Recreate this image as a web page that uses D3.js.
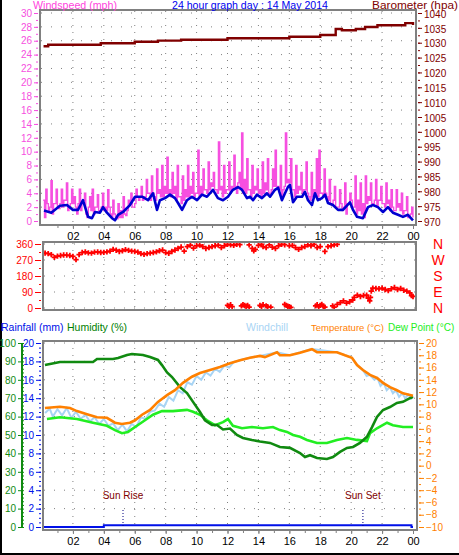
<!DOCTYPE html>
<html><head><meta charset="utf-8">
<script src="https://cdn.jsdelivr.net/npm/d3@7"></script>
<style>body{margin:0;background:#fff}svg{display:block}text{font-family:"Liberation Sans",Arial,sans-serif}</style>
</head><body><svg id="c" width="459" height="555"></svg>
<script>
// ---------- DATA ----------
const hourLabels = ["02","04","06","08","10","12","14","16","18","20","22","00"];
const hourTickValues = [2,4,6,8,10,12,14,16,18,20,22,24];
const windTicks = [0,2,4,6,8,10,12,14,16,18,20,22,24,26,28,30];
const baroTicks = [970,975,980,985,990,995,1000,1005,1010,1015,1020,1025,1030,1035,1040];
const dirTicks = [0,90,180,270,360];
const dirLetters = ["N","E","S","W","N"];
const humTicks = [0,10,20,30,40,50,60,70,80,90,100];
const rainTicks = [0,2,4,6,8,10,12,14,16,18,20];
const tempTicks = [-10,-8,-6,-4,-2,0,2,4,6,8,10,12,14,16,18,20];

// wind gust (mph), 10-minute samples from 00:00: high and low readings within each interval
const gustHigh = [
 3.0,4.6,1.5,5.8,2.5,4.6, 1.8,4.6,3.0,5.5,2.0,4.6, 3.5,1.0,4.6,2.5,4.0,0.5,
 3.5,4.6,2.0,3.8,1.5,4.0, 2.0,4.5,1.0,3.0,0.5,2.5, 1.5,3.5,0.8,3.0,4.0,2.0,
 4.6,3.0,5.0,3.5,6.0,4.0, 6.5,3.5,7.5,4.5,8.0,5.0, 9.2,4.5,7.0,5.0,8.0,3.5,
 6.5,4.5,8.0,5.0,7.0,4.0, 10.2,5.0,7.5,4.5,8.5,5.5, 7.0,4.5,11.4,5.0,8.0,4.5,
 8.5,5.0,9.5,4.0,7.0,12.7, 6.0,9.0,4.5,8.0,5.0,7.5, 4.5,8.5,5.5,9.0,4.0,7.5,
 10.2,5.0,8.0,4.5,12.7,6.0, 9.0,4.5,8.0,5.0,7.0,4.5, 8.5,3.5,7.0,4.5,9.0,10.2,
 4.0,7.5,3.5,6.0,2.5,5.0, 2.0,4.5,1.5,5.5,2.5,4.0, 2.0,6.5,3.0,5.5,2.5,6.5,
 3.5,5.5,2.5,6.0,3.0,5.0, 2.5,5.5,3.0,4.5,1.5,4.5, 2.5,4.0,1.5,3.5,0.8,2.0
];
const gustLow = [
 0.5,2.5,2.0,1.0,2.5,2.0, 2.5,2.0,3.0,1.5,2.5,2.5, 2.0,2.5,1.5,3.0,1.0,2.0,
 1.5,1.0,2.0,1.5,2.0,1.5, 1.5,2.0,0.5,1.0,0.3,0.5, 0.5,1.0,1.5,2.5,2.0,2.5,
 3.5,3.5,3.0,3.5,4.0,3.0, 4.0,3.0,4.0,3.5,3.5,4.0, 4.0,3.5,4.0,3.0,3.5,2.5,
 3.0,3.5,3.5,4.0,3.5,4.0, 3.5,4.0,4.5,4.0,4.5,5.0, 4.5,4.0,4.5,3.5,4.0,4.5,
 4.0,4.5,5.0,5.5,4.5,4.0, 4.0,4.5,3.5,4.0,4.5,4.0, 3.5,4.0,4.5,4.0,4.5,5.0,
 5.0,4.5,3.5,5.0,5.5,5.5, 4.5,3.5,4.0,4.5,4.0,4.5, 4.0,3.0,3.5,4.0,3.5,4.0,
 3.5,4.0,3.0,2.5,3.0,2.0, 2.0,2.5,2.0,1.0,2.5,3.0, 2.0,1.0,1.5,1.0,0.5,2.5,
 3.0,2.5,3.0,2.0,3.0,2.5, 2.0,2.5,1.5,2.0,1.5,2.0, 1.5,1.0,1.5,0.5,1.0,0.5
];
// average wind speed (mph): [hour, value]
const windAvg = [
 [0.13,1.5],[0.6,1.2],[1.16,2.2],[1.62,2.3],[2.0,1.6],[2.33,1.6],[2.65,3.0],[2.98,0.6],[3.23,0.4],
 [3.43,1.3],[3.75,1.2],[3.95,2.0],[4.2,1.2],[4.53,0.4],[4.72,0.1],[4.92,0.9],[5.24,1.3],[5.69,2.3],
 [6.02,3.5],[6.47,3.5],[6.86,3.0],[7.18,4.0],[7.44,1.6],[7.63,3.0],[7.96,3.3],[8.28,3.8],[8.6,3.3],
 [8.8,2.6],[9.06,1.6],[9.38,3.0],[9.7,3.5],[10.03,3.0],[10.35,3.8],[10.67,3.5],[11.06,4.5],[11.38,3.3],
 [11.71,3.0],[12.03,3.5],[12.35,4.5],[12.68,4.9],[12.94,4.5],[13.26,3.3],[13.45,3.5],[13.65,3.0],
 [13.9,3.8],[14.23,3.3],[14.55,4.0],[14.75,3.5],[15.07,4.5],[15.27,4.8],[15.52,3.0],[15.72,4.0],
 [15.91,4.9],[16.04,5.2],[16.24,2.7],[16.49,3.5],[16.82,3.5],[17.01,4.2],[17.21,3.0],[17.46,2.3],
 [17.66,4.0],[17.85,3.0],[18.11,3.3],[18.31,3.8],[18.5,2.6],[18.82,2.3],[19.15,1.6],[19.47,1.6],
 [19.92,2.7],[20.12,1.6],[20.38,0.6],[20.76,0.4],[21.09,2.0],[21.41,2.3],[21.73,2.0],[22.06,1.3],
 [22.38,2.0],[22.7,1.2],[23.03,0.9],[23.35,0.6],[23.67,0.9],[24.0,0.1]
];
// barometer (hPa): [hour, value] step
const baro = [
 [0.1,1028.8],[0.4,1029.3],[3.8,1029.8],[6.0,1030.3],[7.5,1030.7],[9.0,1031.0],[12.0,1031.5],
 [16.0,1032.0],[18.0,1032.6],[19.0,1034.6],[19.4,1034.2],[20.3,1034.6],[20.9,1035.3],[21.7,1035.9],
 [23.5,1036.6],[24.0,1036.0]
];
// wind direction (deg): [hour, value]
const windDir = [
 [0.2,309],[0.4,306],[0.6,300],[0.8,285],[1.0,292],[1.2,295],[1.4,298],[1.6,298],[1.8,295],[2.0,290],
 [2.2,272],[2.4,300],[2.6,312],[2.8,315],[3.0,310],[3.2,309],[3.4,314],[3.6,315],[3.8,312],[4.0,313],
 [4.2,316],[4.4,320],[4.6,330],[4.8,325],[5.0,318],[5.2,322],[5.4,328],[5.6,324],[5.8,320],[6.0,318],
 [6.2,314],[6.4,306],[6.6,302],[6.8,306],[7.0,309],[7.2,312],[7.4,316],[7.6,322],[7.8,326],[8.0,312],
 [8.2,308],[8.4,318],[8.6,326],[8.8,335],[9.0,343],[9.2,320],[9.4,345],[9.6,354],[9.8,337],[10.0,350],
 [10.2,354],[10.4,345],[10.6,335],[10.8,340],[11.0,345],[11.2,350],[11.4,354],[11.6,340],[11.8,350],
 [12.0,358],[12.2,355],[12.4,352],[12.6,358],[12.8,356],[13.4,355],[13.6,335],[13.7,322],[13.8,330],
 [14.0,352],[14.2,358],[14.3,345],[14.5,340],[14.7,355],[14.9,342],[15.1,335],[15.3,350],[15.5,358],
 [15.7,356],[16.0,350],[16.2,352],[16.4,340],[16.6,330],[16.8,340],[17.0,345],[17.2,355],[17.4,350],
 [17.6,358],[17.8,340],[18.0,345],[18.3,318],[18.5,345],[18.7,350],[18.9,355],[19.1,358],
 [12.0,15],[12.1,10],[12.2,18],[12.3,8],[12.9,12],[13.0,18],[13.1,15],[13.2,10],[13.3,14],[13.4,5],
 [14.1,15],[14.2,10],[14.3,18],[14.5,12],[14.6,8],[14.8,5],[15.7,20],[15.8,15],[15.9,10],[16.0,8],
 [16.1,3],[17.7,12],[17.8,18],[17.9,8],[18.0,15],[18.1,20],[18.2,10],[18.3,5],[18.8,12],[18.9,5],
 [19.1,20],[19.3,30],[19.5,40],[19.7,28],[19.9,35],[20.1,45],[20.2,60],[20.4,72],[20.6,65],[20.8,70],
 [21.0,72],[21.1,55],[21.2,40],[21.25,60],[21.3,95],[21.4,112],[21.6,110],[21.8,108],[22.0,112],
 [22.2,104],[22.4,98],[22.6,108],[22.8,115],[23.0,104],[23.2,110],[23.4,100],[23.6,95],[23.8,85],
 [23.9,70],[24.0,65]
];
// temperature (°C)
const temperature = [
 [0.19,9.4],[1.16,9.6],[1.81,9.4],[2.26,8.9],[2.91,8.4],[3.56,7.9],[4.2,7.8],[4.72,7.0],[5.17,6.8],
 [5.69,7.0],[6.02,7.4],[6.47,8.3],[6.99,9.1],[7.5,10.4],[8.09,11.5],[8.6,12.3],[9.12,13.5],[9.7,14.5],
 [10.22,15.1],[10.87,15.6],[11.51,16.1],[12.16,16.7],[12.81,17.2],[13.45,17.6],[14.1,17.9],[14.42,17.7],
 [15.2,18.5],[15.39,18.0],[16.04,18.0],[16.69,18.4],[17.46,19.0],[17.79,18.5],[18.63,18.5],[19.08,18.5],
 [19.6,18.0],[20.05,17.6],[20.38,16.4],[20.76,15.6],[21.22,14.8],[21.67,14.3],[22.06,13.5],[22.51,12.8],
 [22.96,12.3],[23.35,11.8],[24.0,11.4]
];
// windchill (°C)
const windchill = [
 [0.2,8.6],[0.5,9.3],[0.7,8.0],[1.0,9.2],[1.3,8.2],[1.6,9.4],[1.9,7.8],[2.2,8.8],[2.5,7.6],[2.8,8.3],
 [3.1,7.2],[3.4,7.9],[3.7,6.8],[4.0,7.6],[4.3,6.5],[4.6,6.9],[4.9,5.8],[5.2,6.7],[5.5,5.6],[5.8,6.8],
 [6.1,6.3],[6.4,7.9],[6.7,7.6],[7.0,8.8],[7.3,9.0],[7.6,10.1],[7.9,9.6],[8.2,11.2],[8.5,10.6],[8.8,12.3],
 [9.1,11.8],[9.4,13.6],[9.7,13.2],[10.0,14.6],[10.3,14.0],[10.6,15.2],[10.9,14.7],[11.2,15.8],[11.5,15.3],
 [11.8,16.3],[12.1,16.0],[12.4,16.9],[12.8,17.2],[13.45,17.6],[14.1,17.9],[15.2,18.5],[16.04,18.0],
 [17.46,19.0],[19.08,18.5],[20.05,17.6],[20.38,16.4],[20.76,15.6],[21.0,14.6],[21.2,14.8],[21.5,14.0],
 [21.7,14.3],[21.9,13.0],[22.1,13.5],[22.3,12.3],[22.5,12.8],[22.7,11.8],[22.9,12.3],[23.1,11.2],
 [23.3,11.8],[23.5,11.0],[23.7,11.6],[23.9,11.0],[24.0,11.4]
];
// dew point (°C)
const dewPoint = [
 [0.32,7.6],[1.16,7.9],[2.26,7.6],[3.3,7.0],[4.2,6.5],[4.72,5.8],[5.17,5.3],[5.56,5.5],[6.14,6.5],
 [6.66,7.4],[7.18,8.3],[7.76,8.9],[8.47,8.9],[9.38,9.1],[9.77,8.8],[10.22,8.3],[10.67,7.4],[11.19,6.6],
 [11.71,7.1],[12.03,7.6],[12.35,6.5],[12.94,6.1],[13.58,6.3],[14.29,6.1],[14.94,6.3],[15.39,5.8],
 [15.85,5.5],[16.24,5.0],[16.69,4.7],[17.14,4.2],[17.79,3.7],[18.43,3.7],[19.08,4.2],[19.73,4.5],
 [20.38,4.2],[21.02,4.0],[21.22,5.3],[21.67,6.1],[22.32,7.0],[22.7,6.6],[23.35,6.3],[24.0,6.3]
];
// humidity (%)
const humidity = [
 [0.19,88],[1.16,89.7],[3.3,89.7],[3.56,91.3],[4.59,91.3],[4.92,91.8],[5.5,93.5],[5.82,94],[6.53,93.5],
 [6.99,92.4],[7.5,90.8],[7.76,88],[8.09,84],[8.41,81.5],[8.93,76],[9.38,72.8],[9.77,68],[10.22,62.5],
 [10.54,58],[11.0,55.4],[11.32,55.4],[11.71,53],[12.16,53.5],[12.61,50],[13.0,48.4],[13.58,47.3],
 [14.1,46.5],[14.75,45.7],[15.39,43.5],[16.04,43],[16.69,40.2],[17.01,38],[17.34,39],[17.79,37.5],
 [18.43,37],[18.82,38],[19.28,40.8],[19.73,43],[20.12,43.5],[20.57,45.7],[21.02,49],[21.35,54.3],
 [21.67,59.8],[22.06,63.6],[22.51,65.2],[22.96,67.4],[23.35,68],[23.8,70],[24.0,70.7]
];
// rainfall (mm)
const rainfall = [[0.13,0],[4.0,0],[4.0,0.2],[23.9,0.2],[23.9,0],[24.0,0]];
const sunEvents = [["Sun Rise",5.24],["Sun Set",20.76]];

// ---------- DRAW ----------
const svg = d3.select("#c");
const C = {pink:"#f64fe0",blue:"#0000d0",baro:"#800000",dir:"#ff0000",hum:"#108a10",dew:"#22ee22",
           temp:"#ff8000",chill:"#a8d4f4",rain:"#0010e8",grid:"#808080",frame:"#808080"};
const x = d3.scaleLinear().domain([0,24]).range([42,413]);

// outer border
svg.append("rect").attr("x",0).attr("y",0).attr("width",2).attr("height",555).attr("fill","#000");
svg.append("rect").attr("x",0).attr("y",553).attr("width",459).attr("height",2).attr("fill","#000");

function grid(g, x0, x1, y0, y1, ys){
  g.selectAll(null).data(hourTickValues.slice(0,-1)).join("line")
   .attr("x1",d=>x(d)).attr("x2",d=>x(d)).attr("y1",y0).attr("y2",y1)
   .attr("stroke",C.grid).attr("stroke-width",1).attr("stroke-dasharray","1,6");
  g.selectAll(null).data(ys).join("line")
   .attr("x1",x0).attr("x2",x1).attr("y1",d=>d).attr("y2",d=>d)
   .attr("stroke",C.grid).attr("stroke-width",1).attr("stroke-dasharray","1,9");
}
function frame(x0,y0,x1,y1){
  svg.append("rect").attr("x",x0).attr("y",y0).attr("width",x1-x0).attr("height",y1-y0)
   .attr("fill","none").attr("stroke",C.frame).attr("stroke-width",2);
}
function styleAxis(g,color,fs){
  g.selectAll("path").remove();
  g.selectAll("line").attr("stroke",color);
  g.selectAll("text").attr("fill",color).style("font-size",fs+"px").style("font-family","'Liberation Sans',Arial,sans-serif");
}
function timeAxis(y){
  const g = svg.append("g").attr("transform",`translate(0,${y})`);
  g.call(d3.axisBottom(x).tickValues(d3.range(1,25)).tickSize(3).tickFormat(""));
  styleAxis(g,"#808080",10);
  const g2 = svg.append("g").attr("transform",`translate(0,${y})`);
  g2.call(d3.axisBottom(x).tickValues(hourTickValues).tickSize(4).tickPadding(3)
     .tickFormat((d,i)=>hourLabels[i]));
  styleAxis(g2,"#000",11);
  g2.selectAll("line").attr("stroke","#808080");
}

// ===== TOP PANEL =====
const wY = d3.scaleLinear().domain([0,30]).range([221,13]);
const bY = d3.scaleLinear().domain([970,1040]).range([221,13]);
grid(svg.append("g"),41,415,11,224,windTicks.filter(d=>d>0).map(wY));
// gust: high/low readings interleaved as a step trace
const gustTrace = [];
gustHigh.forEach((v,i)=>{ gustTrace.push([i/6+0.08,v]); gustTrace.push([i/6+0.08+1/12,gustLow[i]]); });
svg.append("path").datum(gustTrace)
  .attr("d",d3.line().x(d=>x(d[0])).y(d=>wY(d[1])).curve(d3.curveStepAfter))
  .attr("fill","none").attr("stroke",C.pink).attr("stroke-width",1.4);
// average
svg.append("path").datum(windAvg)
  .attr("d",d3.line().x(d=>x(d[0])).y(d=>wY(d[1])))
  .attr("fill","none").attr("stroke",C.blue).attr("stroke-width",2.6).attr("stroke-linejoin","round");
// barometer
svg.append("path").datum(baro)
  .attr("d",d3.line().x(d=>x(d[0])).y(d=>bY(d[1])).curve(d3.curveStepAfter))
  .attr("fill","none").attr("stroke",C.baro).attr("stroke-width",2.4);
frame(40,10,416,225);
{ const g=svg.append("g").attr("transform","translate(38,0)");
  g.call(d3.axisLeft(wY).tickValues(d3.range(0,30.5,1)).tickSize(2).tickFormat(""));
  styleAxis(g,C.pink,10);
  const g2=svg.append("g").attr("transform","translate(38,0)");
  g2.call(d3.axisLeft(wY).tickValues(windTicks).tickSize(4).tickPadding(2));
  styleAxis(g2,C.pink,10); }
{ const g=svg.append("g").attr("transform","translate(418,0)");
  g.call(d3.axisRight(bY).tickValues(d3.range(970,1040.5,2.5)).tickSize(2).tickFormat(""));
  styleAxis(g,C.baro,10);
  const g2=svg.append("g").attr("transform","translate(418,0)");
  g2.call(d3.axisRight(bY).tickValues(baroTicks).tickSize(4).tickPadding(2).tickFormat(d3.format("d")));
  styleAxis(g2,C.baro,10);
  g2.selectAll("text").attr("dy","0.42em"); }
timeAxis(225);

const titles = [["Windspeed (mph)",33,84,"#ff44dd"],["24 hour graph day : 14 May 2014",172,156,"#0000ee"],
                ["Barometer (hpa)",372,86,C.baro]];
svg.append("g").selectAll("text").data(titles).join("text")
  .attr("x",d=>d[1]).attr("y",9).attr("fill",d=>d[3]).attr("textLength",d=>d[2]).attr("lengthAdjust","spacingAndGlyphs")
  .style("font-size","10.5px").text(d=>d[0]);

// ===== MIDDLE PANEL =====
const dY = d3.scaleLinear().domain([0,360]).range([308,244]);
grid(svg.append("g"),44,415,243,309,dirTicks.map(dY));
svg.append("g").selectAll("path").data(windDir).join("path")
  .attr("transform",d=>`translate(${x(d[0])},${dY(d[1])})`)
  .attr("d",d3.symbol(d3.symbolCross,16)).attr("fill",C.dir);
frame(43,242,416,310);
{ const g=svg.append("g").attr("transform","translate(41,0)");
  g.call(d3.axisLeft(dY).tickValues(d3.range(0,361,45)).tickSize(2).tickFormat(""));
  styleAxis(g,C.dir,10);
  const g2=svg.append("g").attr("transform","translate(41,0)");
  g2.call(d3.axisLeft(dY).tickValues(dirTicks).tickSize(6).tickPadding(2));
  styleAxis(g2,C.dir,10); }
svg.append("g").selectAll("text").data(dirTicks).join("text")
  .attr("x",438).attr("y",d=>dY(d)+5).attr("text-anchor","middle").attr("fill",C.dir)
  .style("font-size","14px").text((d,i)=>dirLetters[i]);

// ===== BOTTOM PANEL =====
const hY = d3.scaleLinear().domain([0,100]).range([527,343]);
const tY = d3.scaleLinear().domain([-10,20]).range([527,343]);
const rY = d3.scaleLinear().domain([0,20]).range([527,343]);
grid(svg.append("g"),44,416,341,530,humTicks.filter(d=>d>0).map(hY));
const ln = (ys)=>d3.line().x(d=>x(d[0])).y(d=>ys(d[1]));
svg.append("path").datum(windchill).attr("d",ln(tY)).attr("fill","none").attr("stroke",C.chill).attr("stroke-width",2);
svg.append("path").datum(dewPoint).attr("d",ln(tY)).attr("fill","none").attr("stroke",C.dew).attr("stroke-width",2.6);
svg.append("path").datum(humidity).attr("d",ln(hY)).attr("fill","none").attr("stroke",C.hum).attr("stroke-width",2.6);
svg.append("path").datum(temperature).attr("d",ln(tY)).attr("fill","none").attr("stroke",C.temp).attr("stroke-width",2.6);
svg.append("path").datum(rainfall).attr("d",ln(rY)).attr("fill","none").attr("stroke",C.rain).attr("stroke-width",2);
// sun events
svg.append("g").selectAll("line").data(sunEvents).join("line")
  .attr("x1",d=>x(d[1])).attr("x2",d=>x(d[1])).attr("y1",510).attr("y2",528)
  .attr("stroke","#000080").attr("stroke-dasharray","1,2");
svg.append("g").selectAll("text").data(sunEvents).join("text")
  .attr("x",d=>x(d[1])).attr("y",499).attr("text-anchor","middle").attr("fill","#800000")
  .style("font-size","10px").text(d=>d[0]);
frame(43,341,417,530);
{ const g=svg.append("g").attr("transform","translate(22,0)");
  g.call(d3.axisLeft(hY).tickValues(humTicks).tickSize(4).tickPadding(2));
  styleAxis(g,C.hum,10);
  g.append("line").attr("x1",0).attr("x2",0).attr("y1",hY(100)).attr("y2",hY(0)).attr("stroke",C.hum).attr("stroke-width",2);
  const gm=svg.append("g").attr("transform","translate(22,0)");
  gm.call(d3.axisRight(hY).tickValues(d3.range(0,101,2)).tickSize(2).tickFormat(""));
  styleAxis(gm,C.hum,10); }
{ const g=svg.append("g").attr("transform","translate(41,0)");
  g.call(d3.axisLeft(rY).tickValues(d3.range(0,20.1,0.5)).tickSize(2).tickFormat(""));
  styleAxis(g,C.rain,10);
  const g2=svg.append("g").attr("transform","translate(41,0)");
  g2.call(d3.axisLeft(rY).tickValues(rainTicks).tickSize(5).tickPadding(2));
  styleAxis(g2,C.rain,10); }
{ const g=svg.append("g").attr("transform","translate(419,0)");
  g.call(d3.axisRight(tY).tickValues(d3.range(-10,20.1,1)).tickSize(2).tickFormat(""));
  styleAxis(g,C.temp,10);
  const g2=svg.append("g").attr("transform","translate(419,0)");
  g2.call(d3.axisRight(tY).tickValues(tempTicks).tickSize(5).tickPadding(2));
  styleAxis(g2,C.temp,10); }
timeAxis(530);

const legend = [["Rainfall (mm)",1,10.5,C.rain],["Humidity (%)",67,10.5,"#008000"],["Windchill",246,10.5,C.chill],
                ["Temperature (°C)",311,9.5,C.temp],["Dew Point (°C)",388,10,C.dew]];
svg.append("g").selectAll("text").data(legend).join("text")
  .attr("x",d=>d[1]).attr("y",331).attr("fill",d=>d[3])
  .style("font-size",d=>d[2]+"px").text(d=>d[0]);
</script></body></html>
